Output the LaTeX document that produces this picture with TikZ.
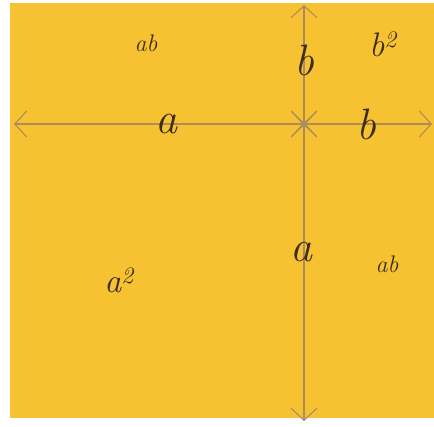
\documentclass[tikz,border=0pt]{standalone}
\usepackage{fontspec}
\usetikzlibrary{arrows.meta}
\definecolor{notepaper}{HTML}{F6C232}
\definecolor{pencilline}{HTML}{AD8C5C}
\definecolor{inkbrown}{HTML}{3B2C1C}

\begin{document}
\begin{tikzpicture}[
  x=1pt,
  y=-1pt,
  line join=round,
  line cap=round,
  measure/.style={draw=pencilline,line width=1.1pt,
    {Straight Barb[length=12pt,width=26pt]}-{Straight Barb[length=12pt,width=26pt]}},
  side/.style={text=inkbrown,inner sep=0pt,font=\fontsize{44}{44}\selectfont\itshape},
  area/.style={text=inkbrown,inner sep=0pt,font=\fontsize{24}{24}\selectfont\itshape},
  square/.style={text=inkbrown,inner sep=0pt,font=\fontsize{34}{34}\selectfont\itshape}
]
  % Page and the sheet of paper.
  \useasboundingbox[fill=white] (0,0) rectangle (434,427);
  \fill[notepaper] (10,3) rectangle (434,418);

  % Ends of the two dividing lines and where they cross.
  \coordinate (O) at (304,124);
  \coordinate (L) at (14,124);
  \coordinate (R) at (432,124);
  \coordinate (T) at (304,5);
  \coordinate (B) at (304,421);

  % Each piece of a side carries its own double arrow.
  \draw[measure] (L) -- (O);
  \draw[measure] (O) -- (R);
  \draw[measure] (T) -- (O);
  \draw[measure] (O) -- (B);

  % Lengths of the pieces.
  \node[side] (sideA1) at (166,124) {a};
  \node[side] (sideB1) at (366,124) {b};
  \node[side] (sideB2) at (304,60) {b};
  \node[side] (sideA2) at (301,252) {a};

  % Areas of the four parts.
  \node[area] (areaAB1) at (146,43) {ab};
  \node[area] (areaAB2) at (387,264) {ab};
  \node[square] (areaBB) at (383,44) {b\textsuperscript{2}};
  \node[square] (areaAA) at (119,280) {a\textsuperscript{2}};
\end{tikzpicture}
\end{document}
